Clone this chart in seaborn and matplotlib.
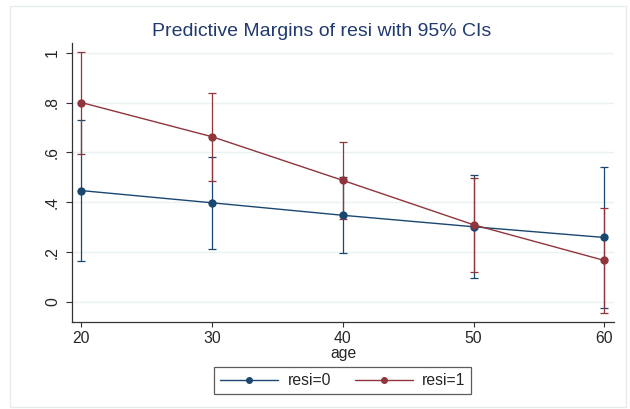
import matplotlib
matplotlib.use("Agg")
import matplotlib.pyplot as plt
import seaborn as sns
import pandas as pd
from matplotlib.patches import Rectangle
from matplotlib.lines import Line2D

ages = [20, 30, 40, 50, 60]
resi0_margin = [0.447, 0.398, 0.348, 0.302, 0.259]
resi0_lo = [0.164, 0.213, 0.198, 0.098, -0.023]
resi0_hi = [0.730, 0.583, 0.503, 0.508, 0.543]
resi1_margin = [0.800, 0.663, 0.488, 0.310, 0.167]
resi1_lo = [0.594, 0.485, 0.334, 0.122, -0.043]
resi1_hi = [1.003, 0.840, 0.640, 0.496, 0.378]
series_labels = ["resi=0", "resi=1"]
yticks = [0, 0.2, 0.4, 0.6, 0.8, 1]
ytick_labels = ["0", ".2", ".4", ".6", ".8", "1"]

navy = "#1a476f"
maroon = "#90353b"
title_color = "#1f3a6e"

sns.set_style("white")
plt.rcParams["font.family"] = ["Liberation Sans", "DejaVu Sans"]

df = pd.DataFrame({
    "age": ages * 2,
    "margin": resi0_margin + resi1_margin,
    "group": [series_labels[0]] * 5 + [series_labels[1]] * 5,
})

fig = plt.figure(figsize=(6.30, 4.09), dpi=100)
ax = fig.add_axes([0.1146, 0.2127, 0.975 - 0.1146, 0.8949 - 0.2127])

for ax_y in yticks:
    ax.axhline(ax_y, color="#eaf2f3", lw=1.0, zorder=0)

for m, lo, hi, c in [(resi0_margin, resi0_lo, resi0_hi, navy),
                     (resi1_margin, resi1_lo, resi1_hi, maroon)]:
    yerr = [[mm - l for mm, l in zip(m, lo)], [h - mm for mm, h in zip(m, hi)]]
    ax.errorbar(ages, m, yerr=yerr, fmt="none", ecolor=c, elinewidth=0.9,
                capsize=2.6, capthick=0.9, zorder=2)

sns.lineplot(data=df, x="age", y="margin", hue="group",
             palette={series_labels[0]: navy, series_labels[1]: maroon},
             marker="o", markersize=6.0, markeredgewidth=0, lw=1.0,
             ax=ax, zorder=3, legend=False)

ax.set_xlim(19.29, 60.77)
ax.set_ylim(-0.080, 1.039)
ax.set_xticks(ages)
ax.set_xticklabels([str(a) for a in ages], fontsize=11.3)
ax.set_yticks(yticks)
ax.set_yticklabels(ytick_labels, fontsize=11.3, rotation=90, va="center")
ax.set_xlabel("age", fontsize=11.3, labelpad=0)
ax.set_ylabel("")
ax.tick_params(axis="x", direction="out", length=3.6, width=0.8, color="#333333", pad=3)
ax.tick_params(axis="y", direction="out", length=4.3, width=0.8, color="#333333", pad=4.5)
ax.tick_params(axis="both", bottom=True, left=True)
for s in ["top", "right"]:
    ax.spines[s].set_visible(False)
for s in ["left", "bottom"]:
    ax.spines[s].set_color("#333333")
    ax.spines[s].set_linewidth(0.9)

fig.text(0.511, 1 - 32 / 409, "Predictive Margins of resi with 95% CIs",
         ha="center", va="center", fontsize=14, color=title_color)

handles = [Line2D([0], [0], color=navy, lw=1.0, marker="o", markersize=4),
           Line2D([0], [0], color=maroon, lw=1.0, marker="o", markersize=4)]
leg = fig.legend(handles, series_labels, loc="center", ncol=2,
                 bbox_to_anchor=(0.544, 1 - 380.5 / 409), fontsize=11.3,
                 frameon=True, fancybox=False, edgecolor="#333333",
                 handlelength=3.7, columnspacing=1.5, borderpad=0.38,
                 handletextpad=0.6, borderaxespad=0)
leg.get_frame().set_linewidth(0.9)

fig.patches.append(Rectangle((10 / 630, 2 / 409), 616 / 630, 401 / 409,
                             transform=fig.transFigure, fill=False,
                             edgecolor="#e6ecee", lw=1.0))

fig.savefig("out.png", dpi=100)
